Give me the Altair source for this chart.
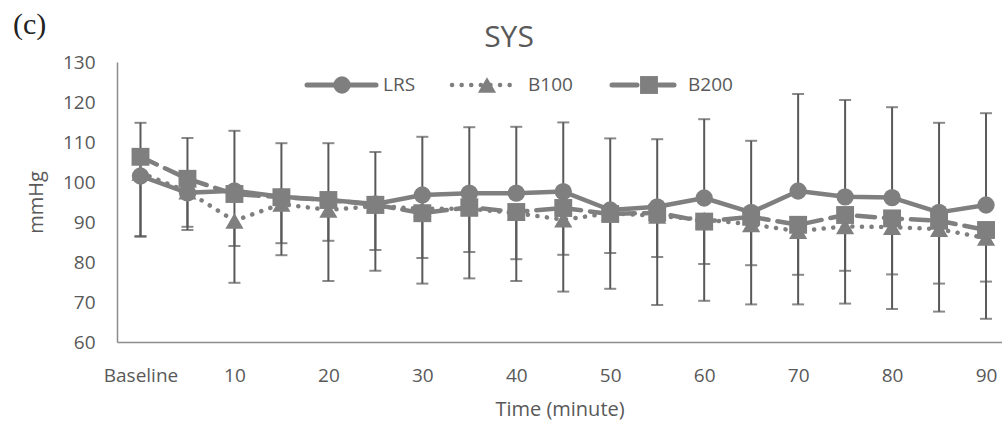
import altair as alt
import pandas as pd

# ---------------- data ----------------
times = ["Baseline", "5", "10", "15", "20", "25", "30", "35", "40", "45",
         "50", "55", "60", "65", "70", "75", "80", "85", "90"]

lrs_mean = [101.5, 97.3, 97.8, 96.3, 95.5, 94.5, 96.75, 97.2, 97.2, 97.6,
            93.0, 93.8, 96.0, 92.4, 97.75, 96.3, 96.1, 92.4, 94.25]
lrs_sd = [13.3, 13.7, 15.0, 13.4, 14.2, 13.0, 14.55, 16.5, 16.6, 17.3,
          17.9, 16.9, 19.7, 17.9, 24.25, 24.2, 22.6, 22.4, 22.95]

b100_mean = [102.3, 97.6, 90.3, 94.5, 93.0, 94.0, 93.3, 93.3, 92.2, 90.6,
             92.2, 91.5, 90.6, 89.4, 87.7, 88.9, 88.7, 88.2, 86.0]
b100_sd = [15.8, 9.6, 15.5, 12.8, 17.75, 16.2, 18.7, 17.4, 16.95, 18.0,
           18.9, 22.25, 20.3, 20.0, 18.3, 19.3, 20.45, 20.6, 20.2]

b200_mean = [106.3, 100.8, 97.0, 96.2, 95.5, 94.3, 92.2, 93.7, 92.5, 93.5,
             92.0, 92.3, 90.1, 91.3, 89.3, 91.75, 90.9, 90.3, 88.0]
b200_sd = [20.0, 12.0, 13.0, 11.5, 10.2, 11.3, 11.2, 11.2, 11.8, 11.7,
           9.75, 11.05, 10.6, 12.1, 12.5, 13.95, 14.0, 15.7, 12.9]

y_ticks = [60, 70, 80, 90, 100, 110, 120, 130]
series_names = ["LRS", "B100", "B200"]

# ---------------- table ----------------
rows = []
for i, t in enumerate(times):
    # LRS: plus error bars; B100/B200: minus error bars (as in the figure)
    rows.append(dict(idx=i, time=t, series="LRS", mean=lrs_mean[i],
                     lo=lrs_mean[i], hi=lrs_mean[i] + lrs_sd[i],
                     cap=lrs_mean[i] + lrs_sd[i]))
    rows.append(dict(idx=i, time=t, series="B100", mean=b100_mean[i],
                     lo=b100_mean[i] - b100_sd[i], hi=b100_mean[i],
                     cap=b100_mean[i] - b100_sd[i]))
    rows.append(dict(idx=i, time=t, series="B200", mean=b200_mean[i],
                     lo=b200_mean[i] - b200_sd[i], hi=b200_mean[i],
                     cap=b200_mean[i] - b200_sd[i]))
df = pd.DataFrame(rows)

FONT = "Open Sans"
TXT = "#595959"
GRAY = "#7f7f7f"
ERR = "#595959"
AXIS = "#8c8c8c"

xscale = alt.Scale(domain=[-0.5, 18.34], nice=False, zero=False)
yscale = alt.Scale(domain=[60, 130], nice=False, zero=False)

x_axis = alt.Axis(
    values=list(range(0, 19, 2)),
    labelExpr="datum.value == 0 ? 'Baseline' : '' + datum.value * 5",
    title="Time (minute)", ticks=False, grid=False,
    domainColor=AXIS, domainWidth=1.5,
    labelFont=FONT, labelFontSize=19, labelColor=TXT, labelPadding=24,
    titleFont=FONT, titleFontSize=20, titleColor=TXT, titleFontWeight="normal",
    titlePadding=14, labelFlush=False, labelOverlap=False,
)
y_axis = alt.Axis(
    values=y_ticks, title="mmHg", ticks=False, grid=False,
    domainColor=AXIS, domainWidth=1.5,
    labelFont=FONT, labelFontSize=19, labelColor=TXT, labelPadding=22,
    titleFont=FONT, titleFontSize=20, titleColor=TXT, titleFontWeight="normal",
    titlePadding=16, labelOverlap=False, labelFlush=False,
)


def X():
    return alt.X("idx:Q", scale=xscale, axis=x_axis)


def Y(field):
    return alt.Y(field, scale=yscale, axis=y_axis)


base = alt.Chart(df)

err_rule = base.mark_rule(color=ERR, strokeWidth=2).encode(
    x=X(), y=Y("lo:Q"), y2="hi:Q")
err_cap = base.mark_tick(color=ERR, orient="horizontal", size=12, thickness=2).encode(
    x=X(), y=Y("cap:Q"))

dash = {"LRS": None, "B100": [0.1, 9.5], "B200": [18, 9]}
shape = {"LRS": "circle", "B100": "triangle-up", "B200": "square"}
msize = {"LRS": 300, "B100": 330, "B200": 320}

layers = [err_rule, err_cap]
for s in series_names:
    sub = base.transform_filter(alt.datum.series == s)
    line_kw = dict(color=GRAY, strokeWidth=4.5, strokeCap="round", strokeJoin="round")
    if dash[s] is not None:
        line_kw["strokeDash"] = dash[s]
    layers.append(sub.mark_line(**line_kw).encode(x=X(), y=Y("mean:Q")))
    layers.append(sub.mark_point(filled=True, opacity=1, color=GRAY,
                                 shape=shape[s], size=msize[s]).encode(x=X(), y=Y("mean:Q")))

# ---------------- legend (drawn manually, like the Excel legend) ----------------
one = pd.DataFrame({"k": [0]})
leg = alt.Chart(one)
LY = 23
layers += [
    leg.mark_rule(color=GRAY, strokeWidth=5, strokeCap="round").encode(
        x=alt.value(190), x2=alt.value(259), y=alt.value(LY)),
    leg.mark_point(filled=True, opacity=1, color=GRAY, shape="circle", size=300).encode(
        x=alt.value(225), y=alt.value(LY)),
    leg.mark_text(align="left", baseline="middle", font=FONT, fontSize=19, color=TXT).encode(
        x=alt.value(266), y=alt.value(LY), text=alt.value(series_names[0])),

    leg.mark_rule(color=GRAY, strokeWidth=4.5, strokeCap="round", strokeDash=[0.1, 9.5]).encode(
        x=alt.value(335), x2=alt.value(398), y=alt.value(LY)),
    leg.mark_point(filled=True, opacity=1, color=GRAY, shape="triangle-up", size=330).encode(
        x=alt.value(370), y=alt.value(LY)),
    leg.mark_text(align="left", baseline="middle", font=FONT, fontSize=19, color=TXT).encode(
        x=alt.value(411), y=alt.value(LY), text=alt.value(series_names[1])),

    leg.mark_rule(color=GRAY, strokeWidth=5, strokeCap="round").encode(
        x=alt.value(495), x2=alt.value(520), y=alt.value(LY)),
    leg.mark_rule(color=GRAY, strokeWidth=5, strokeCap="round").encode(
        x=alt.value(542), x2=alt.value(557), y=alt.value(LY)),
    leg.mark_point(filled=True, opacity=1, color=GRAY, shape="square", size=320).encode(
        x=alt.value(532), y=alt.value(LY)),
    leg.mark_text(align="left", baseline="middle", font=FONT, fontSize=19, color=TXT).encode(
        x=alt.value(571), y=alt.value(LY), text=alt.value(series_names[2])),

    # chart title and panel letter
    leg.mark_text(align="center", baseline="middle", font=FONT, fontSize=30, color=TXT).encode(
        x=alt.value(392), y=alt.value(-24), text=alt.value("SYS")),
    leg.mark_text(align="left", baseline="middle", font="Liberation Serif", fontSize=30,
                  color="#222222").encode(
        x=alt.value(-104), y=alt.value(-37), text=alt.value("(c)")),
]

chart = alt.layer(*layers).properties(
    width=885, height=280,
    background="white",
    autosize=alt.AutoSizeParams(type="none"),
    padding={"left": 117, "top": 62, "right": 0, "bottom": 90},
).configure_view(strokeWidth=0, stroke="transparent")

chart.save("out.html", embed_options={"renderer": "svg", "actions": False})
